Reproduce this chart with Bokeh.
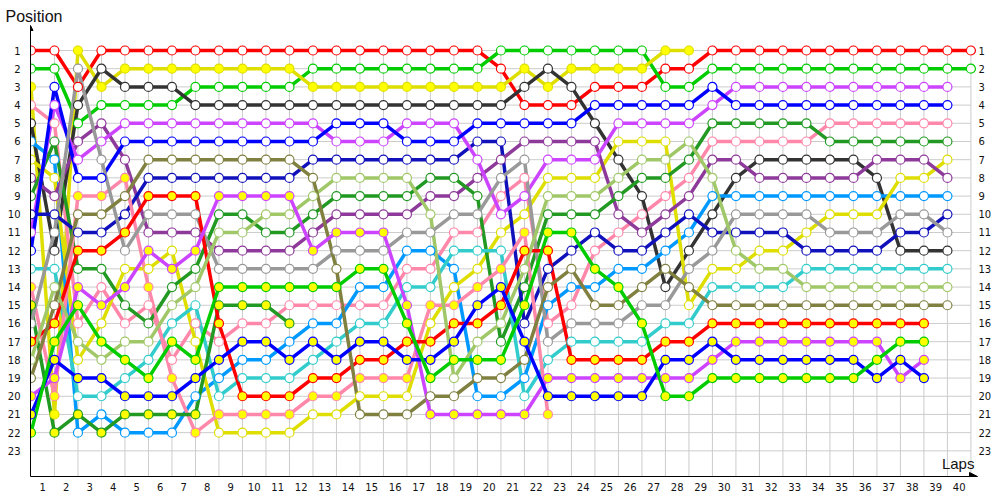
from bokeh.plotting import figure
from bokeh.models import (Range1d, LinearAxis, FixedTicker, Label, Arrow,
                          NormalHead, ColumnDataSource)
from bokeh.embed import file_html
from bokeh.resources import INLINE

# ---------------- data: position per lap (index = lap number) ----------------
red_white = [1, 1, 3, 1, 1, 1, 1, 1, 1, 1, 1, 1, 1, 1, 1, 1, 1, 1, 1, 1,
             2, 4, 4, 4, 3, 3, 3, 2, 2, 1, 1, 1, 1, 1, 1, 1, 1, 1, 1, 1, 1]
green_white = [2, 2, 5, 4, 4, 4, 4, 3, 3, 3, 3, 3, 2, 2, 2, 2, 2, 2, 2, 2,
               1, 1, 1, 1, 1, 1, 1, 3, 3, 2, 2, 2, 2, 2, 2, 2, 2, 2, 2, 2, 2]
yellow_yellow = [3, 21, 1, 3, 2, 2, 2, 2, 2, 2, 2, 2, 3, 3, 3, 3, 3, 3, 3, 3,
                 3, 2, 3, 2, 2, 2, 2, 1, 1]
dark_white = [5, 12, 4, 2, 3, 3, 3, 4, 4, 4, 4, 4, 4, 4, 4, 4, 4, 4, 4, 4,
              4, 3, 2, 3, 5, 7, 9, 14, 12, 10, 8, 7, 7, 7, 7, 7, 8, 12, 12, 12]
magenta_white = [11, 4, 7, 6, 5, 5, 5, 5, 5, 5, 5, 5, 5, 6, 6, 6, 5, 5, 5, 7,
                 10, 9, 7, 7, 7, 5, 5, 5, 5, 4, 3, 3, 3, 3, 3, 3, 3, 3, 3, 3]
blue_white = [12, 3, 8, 8, 6, 6, 6, 6, 6, 6, 6, 6, 6, 5, 5, 5, 6, 6, 6, 5,
              5, 5, 5, 5, 4, 4, 4, 4, 4, 3, 4, 4, 4, 4, 4, 4, 4, 4, 4, 4]
navy_white = [10, 10, 11, 11, 10, 8, 8, 8, 8, 8, 8, 8, 7, 7, 7, 7, 7, 7, 7, 6,
              6, 16, 13, 12, 11, 12, 12, 11, 10, 11, 11, 11, 11, 12, 12, 12, 12, 11, 11, 10]
olive_white = [19, 15, 10, 10, 9, 7, 7, 7, 7, 7, 7, 7, 8, 13, 21, 21, 21, 20, 20, 19,
               19, 18, 14, 13, 15, 15, 14, 13, 14, 15, 15, 15, 15, 15, 15, 15, 15, 15, 15, 15]
lightgreen_white = [18, 14, 17, 18, 17, 17, 15, 14, 11, 11, 10, 10, 9, 8, 8, 8, 8, 10, 19, 17,
                    16, 13, 9, 9, 9, 8, 7, 7, 6, 8, 12, 13, 13, 14, 14, 14, 14, 14, 14, 14]
yellow_white = [7, 8, 18, 16, 13, 13, 12, 17, 22, 22, 22, 22, 21, 21, 20, 20, 20, 16, 14, 13,
                11, 10, 8, 8, 8, 6, 6, 6, 15, 13, 13, 12, 12, 11, 10, 10, 10, 8, 8, 7]
purple_white = [8, 9, 6, 5, 7, 11, 11, 11, 12, 12, 12, 12, 11, 10, 10, 10, 10, 9, 9, 8,
                7, 6, 6, 6, 6, 10, 11, 10, 9, 7, 7, 8, 8, 8, 8, 8, 7, 7, 7, 8]
darkgreen_white = [9, 6, 13, 13, 15, 16, 14, 13, 10, 10, 11, 11, 10, 9, 9, 9, 9, 8, 8, 9,
                   17, 14, 10, 10, 10, 9, 8, 8, 7, 5, 5, 5, 5, 5, 6, 6, 6, 6, 6, 6]
skyblue_white = [6, 7, 22, 21, 22, 22, 22, 20, 19, 18, 18, 17, 16, 16, 14, 14, 12, 12, 13, 20,
                 20, 19, 15, 14, 14, 13, 13, 12, 11, 9, 9, 9, 9, 9, 9, 9, 9, 9, 9, 9]
cyan_white = [13, 13, 20, 20, 19, 18, 16, 15, 20, 19, 19, 19, 18, 17, 16, 16, 14, 14, 12, 12,
              12, 20, 18, 17, 17, 17, 17, 16, 16, 14, 14, 14, 14, 13, 13, 13, 13, 13, 13, 13]
gray_white = [16, 11, 2, 7, 12, 10, 10, 10, 13, 13, 13, 13, 13, 12, 12, 12, 11, 11, 10, 10,
              8, 7, 17, 16, 16, 16, 15, 15, 13, 12, 10, 10, 10, 10, 11, 11, 11, 10, 10, 11]
pink_white = [4, 5, 16, 14, 16, 15, 18, 16, 17, 16, 16, 15, 15, 15, 15, 15, 13, 13, 11, 11,
              9, 8, 16, 15, 12, 11, 10, 9, 8, 6, 6, 6, 6, 6, 5, 5, 5, 5, 5, 5]
pink_yellow = [14, 20, 9, 9, 8, 14, 19, 22, 21, 21, 21, 21, 20, 20, 19, 19, 19, 15, 15, 14,
               13, 11, 21]
red_yellow = [17, 16, 12, 12, 11, 9, 9, 9, 16, 20, 20, 20, 19, 19, 18, 18, 17, 17, 16, 16,
              15, 12, 12, 18, 18, 18, 18, 17, 17, 16, 16, 16, 16, 16, 16, 16, 16, 16, 16]
green_yellow = [22, 17, 15, 17, 18, 19, 17, 18, 14, 14, 14, 14, 14, 14, 13, 13, 16, 19, 18, 18,
                18, 15, 11, 11, 13, 14, 16, 20, 20, 19, 19, 19, 19, 19, 19, 19, 18, 17, 17]
blue_yellow = [21, 18, 19, 19, 20, 20, 20, 19, 18, 17, 17, 18, 17, 18, 17, 17, 18, 18, 17, 15,
               14, 17, 20, 20, 20, 20, 20, 18, 18, 17, 18, 18, 18, 18, 18, 18, 19, 18, 19]
magenta_yellow = [20, 19, 14, 15, 14, 12, 13, 12, 9, 9, 9, 9, 12, 11, 11, 11, 15, 21, 21, 21,
                  21, 21, 19, 19, 19, 19, 19, 19, 19, 18, 17, 17, 17, 17, 17, 17, 17, 19, 18]
darkgreen_yellow = [15, 22, 21, 22, 21, 21, 21, 21, 15, 15, 15, 16]

position_ticks = list(range(1, 24))
lap_labels = [str(n) for n in range(1, 41)]

# (series, line colour, marker fill)
series = [
    (red_white, "#ff0000", "white"), (green_white, "#00cc00", "white"),
    (yellow_yellow, "#dede00", "#ffff00"), (pink_white, "#ff88aa", "white"),
    (dark_white, "#333333", "white"), (skyblue_white, "#0099ff", "white"),
    (yellow_white, "#dede00", "white"), (purple_white, "#8e3a9a", "white"),
    (darkgreen_white, "#229922", "white"), (navy_white, "#1111bb", "white"),
    (magenta_white, "#cc44ff", "white"), (blue_white, "#0000ff", "white"),
    (cyan_white, "#33cccc", "white"), (pink_yellow, "#ff88aa", "#ffff00"),
    (darkgreen_yellow, "#229922", "#ffff00"), (gray_white, "#999999", "white"),
    (red_yellow, "#ff0000", "#ffff00"), (lightgreen_white, "#a0c868", "white"),
    (olive_white, "#808040", "white"), (magenta_yellow, "#cc44ff", "#ffff00"),
    (blue_yellow, "#0000ff", "#ffff00"), (green_yellow, "#00cc00", "#ffff00"),
]

FONT = "DejaVu Sans"
TICK_SIZE = "10px"

p = figure(width=1000, height=500, output_backend="svg", toolbar_location=None,
           x_range=Range1d(-0.02, 40.28), y_range=Range1d(24.41, -0.374),
           min_border_left=30, min_border_right=23, min_border_top=25,
           min_border_bottom=24)
p.outline_line_color = None
p.xgrid.visible = False
p.ygrid.visible = False

# title "Position" top-left
p.title.text = "Position"
p.title.align = "left"
p.title.offset = -25
p.title.standoff = 2
p.title.text_font = "Liberation Sans"
p.title.text_font_size = "16px"
p.title.text_font_style = "normal"
p.title.text_color = "#111111"

# grid lines
n_laps = len(lap_labels)
p.segment(x0=[0] * len(position_ticks), y0=position_ticks,
          x1=[n_laps] * len(position_ticks), y1=position_ticks,
          line_color="#cccccc", line_width=1)
lap_marks = list(range(1, n_laps + 1))
p.segment(x0=lap_marks, y0=[0.72] * n_laps, x1=lap_marks, y1=[24.41] * n_laps,
          line_color="#cccccc", line_width=1)

# axes
for ax in (p.yaxis[0], p.xaxis[0]):
    ax.major_tick_line_color = None
    ax.minor_tick_line_color = None
    ax.major_tick_out = 0
    ax.major_tick_in = 0
    ax.axis_line_color = "black"
    ax.major_label_text_font = FONT
    ax.major_label_text_font_size = TICK_SIZE
    ax.major_label_text_color = "#111111"

p.yaxis.ticker = FixedTicker(ticks=position_ticks)
p.yaxis.major_label_standoff = 10

tick_pos = [i + 0.5 for i in range(n_laps)]
p.xaxis.ticker = FixedTicker(ticks=tick_pos)
p.xaxis.major_label_overrides = {t: lab for t, lab in zip(tick_pos, lap_labels)}
p.xaxis.major_label_standoff = 6

right = LinearAxis(ticker=FixedTicker(ticks=position_ticks))
right.axis_line_color = None
right.major_tick_line_color = None
right.minor_tick_line_color = None
right.major_tick_out = 0
right.major_tick_in = 0
right.major_label_standoff = 1
right.major_label_text_font = FONT
right.major_label_text_font_size = TICK_SIZE
right.major_label_text_color = "#111111"
p.add_layout(right, "right")

p.add_layout(Arrow(end=NormalHead(size=8, fill_color="black", line_color="black"),
                   x_start=39.8, y_start=24.41, x_end=40.28, y_end=24.41,
                   line_color="black", line_width=1))
p.add_layout(Arrow(end=NormalHead(size=5, fill_color="black", line_color="black"),
                   x_start=-0.02, y_start=0.3, x_end=-0.02, y_end=-0.374,
                   line_color="black", line_width=1))

# lines, then markers
sources = []
for pos, col, fill in series:
    src = ColumnDataSource(dict(lap=list(range(len(pos))), pos=pos))
    sources.append((src, col, fill))
    p.line("lap", "pos", source=src, line_color=col, line_width=3.5)
for src, col, fill in sources:
    p.scatter("lap", "pos", source=src, marker="circle", size=9,
              fill_color=fill, line_color=col, line_width=1.2)

p.add_layout(Label(x=40.15, y=23.72, text="Laps", text_font="Liberation Sans",
                   text_font_size="15px", text_color="#111111", text_align="right",
                   text_baseline="alphabetic"))

open("out.html", "w").write(file_html(p, INLINE))
